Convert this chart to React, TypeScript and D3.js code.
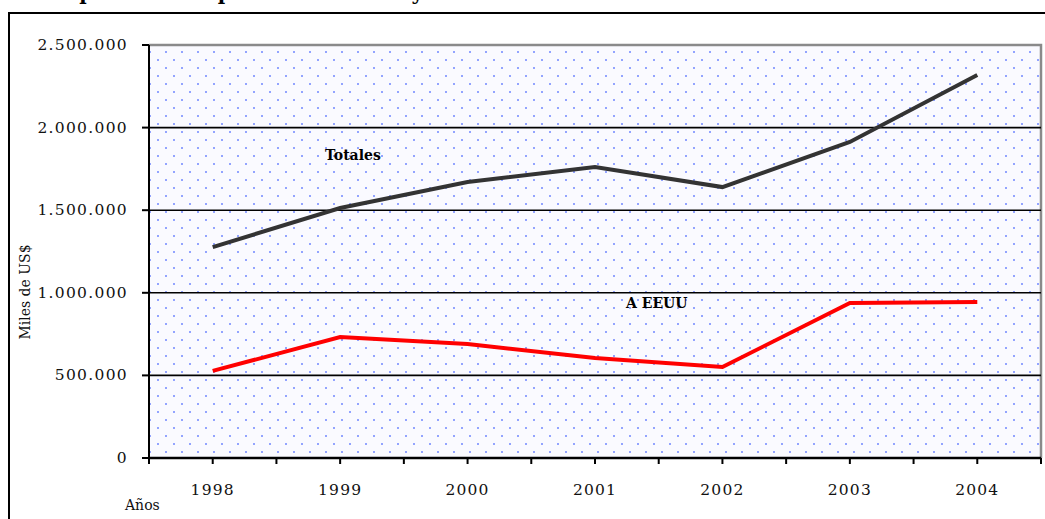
import { useEffect, useRef } from "react";
import * as d3 from "d3";

const years = ["1998", "1999", "2000", "2001", "2002", "2003", "2004"];
const totales = [1277000, 1513000, 1671000, 1761000, 1640000, 1913000, 2318000];
const aEEUU = [527000, 732000, 690000, 605000, 551000, 938000, 944000];
const yTicks = [0, 500000, 1000000, 1500000, 2000000, 2500000];

const W = 1045;
const H = 519;

export default function App() {
  const svgRef = useRef<SVGSVGElement>(null);

  useEffect(() => {
    if (!svgRef.current) return;
    const svg = d3.select(svgRef.current);
    svg.selectAll("*").remove();

    const left = 149, right = 1041, top = 45, bottom = 458;
    const serif = "DejaVu Serif, serif";

    const x = d3.scaleBand().domain(years).range([left, right]).padding(0);
    const y = d3.scaleLinear().domain([0, 2500000]).range([bottom, top]);
    const fmt = (v: number) => d3.format(",")(v).replace(/,/g, ".");

    // dotted fill pattern
    const defs = svg.append("defs");
    const pat = defs.append("pattern")
      .attr("id", "dots")
      .attr("patternUnits", "userSpaceOnUse")
      .attr("width", 16)
      .attr("height", 16);
    pat.append("rect").attr("width", 16).attr("height", 16).attr("fill", "#fafaff");
    pat.append("circle").attr("cx", 6).attr("cy", 4).attr("r", 1).attr("fill", "#7087ff");
    pat.append("circle").attr("cx", 14).attr("cy", 12).attr("r", 1).attr("fill", "#7087ff");

    // title, cut off by the top edge as in the source
    svg.append("text")
      .attr("x", 52)
      .attr("y", 0)
      .attr("font-family", serif)
      .attr("font-weight", "bold")
      .attr("font-size", 20)
      .text("Exportaciones peruanas totales y a EEUU");

    // outer frame
    svg.append("rect")
      .attr("x", 9).attr("y", 13)
      .attr("width", W + 20).attr("height", H + 20)
      .attr("fill", "none")
      .attr("stroke", "#000")
      .attr("stroke-width", 2);

    // plot area
    svg.append("rect")
      .attr("x", left).attr("y", top)
      .attr("width", right - left).attr("height", bottom - top)
      .attr("fill", "url(#dots)");
    svg.append("path")
      .attr("d", `M${left},${top}H${right}V${bottom}`)
      .attr("fill", "none")
      .attr("stroke", "#8a8a8a")
      .attr("stroke-width", 2.5);

    // gridlines
    svg.selectAll(".grid")
      .data(yTicks.filter((t) => t > 0 && t < 2500000))
      .join("line")
      .attr("x1", left).attr("x2", right)
      .attr("y1", (d) => y(d)).attr("y2", (d) => y(d))
      .attr("stroke", "#000")
      .attr("stroke-width", 1.6);

    // y axis
    const yAxis = svg.append("g");
    yAxis.append("line")
      .attr("x1", left).attr("x2", left)
      .attr("y1", top).attr("y2", bottom)
      .attr("stroke", "#000").attr("stroke-width", 2);
    yAxis.selectAll(".yt")
      .data(yTicks)
      .join("line")
      .attr("x1", left - 7).attr("x2", left)
      .attr("y1", (d) => y(d)).attr("y2", (d) => y(d))
      .attr("stroke", "#000").attr("stroke-width", 2);
    yAxis.selectAll(".yl")
      .data(yTicks)
      .join("text")
      .attr("x", 128)
      .attr("y", (d) => y(d) + 5)
      .attr("text-anchor", "end")
      .attr("font-family", serif)
      .attr("font-size", 15.5)
      .attr("letter-spacing", 1.3)
      .attr("fill", "#111")
      .text((d) => fmt(d));

    // x axis
    const xAxis = svg.append("g");
    xAxis.append("line")
      .attr("x1", left).attr("x2", right)
      .attr("y1", bottom).attr("y2", bottom)
      .attr("stroke", "#000").attr("stroke-width", 2.5);
    const tickPos: number[] = [];
    years.forEach((yr) => {
      const b = x(yr) || 0;
      tickPos.push(b, b + x.bandwidth() / 2);
    });
    tickPos.push(right);
    xAxis.selectAll(".xt")
      .data(tickPos)
      .join("line")
      .attr("x1", (d) => d).attr("x2", (d) => d)
      .attr("y1", bottom).attr("y2", bottom + 6)
      .attr("stroke", "#000").attr("stroke-width", 2);
    xAxis.selectAll(".xl")
      .data(years)
      .join("text")
      .attr("x", (d) => (x(d) || 0) + x.bandwidth() / 2)
      .attr("y", 495)
      .attr("text-anchor", "middle")
      .attr("font-family", serif)
      .attr("font-size", 15.5)
      .attr("letter-spacing", 1.2)
      .attr("fill", "#111")
      .text((d) => d);

    // axis titles
    svg.append("text")
      .attr("x", 125).attr("y", 510)
      .attr("font-family", serif)
      .attr("font-size", 14)
      .attr("fill", "#111")
      .text("Años");
    svg.append("text")
      .attr("transform", "translate(30,292) rotate(-90)")
      .attr("text-anchor", "middle")
      .attr("font-family", serif)
      .attr("font-size", 14)
      .attr("fill", "#111")
      .text("Miles de US$");

    // lines
    const line = d3.line<number>()
      .x((_, i) => (x(years[i]) || 0) + x.bandwidth() / 2)
      .y((d) => y(d));
    svg.append("path")
      .attr("d", line(totales) || "")
      .attr("fill", "none")
      .attr("stroke", "#333")
      .attr("stroke-width", 4);
    svg.append("path")
      .attr("d", line(aEEUU) || "")
      .attr("fill", "none")
      .attr("stroke", "#ff0000")
      .attr("stroke-width", 4);

    // series labels
    svg.append("text")
      .attr("x", 325).attr("y", 160)
      .attr("font-family", serif)
      .attr("font-weight", "bold")
      .attr("font-size", 14)
      .attr("fill", "#000")
      .text("Totales");
    svg.append("text")
      .attr("x", 626).attr("y", 308)
      .attr("font-family", serif)
      .attr("font-weight", "bold")
      .attr("font-size", 14)
      .attr("fill", "#000")
      .text("A EEUU");
  }, []);

  return (
    <svg
      ref={svgRef}
      width={W}
      height={H}
      style={{ position: "fixed", left: 0, top: 0, background: "#fff" }}
    />
  );
}
